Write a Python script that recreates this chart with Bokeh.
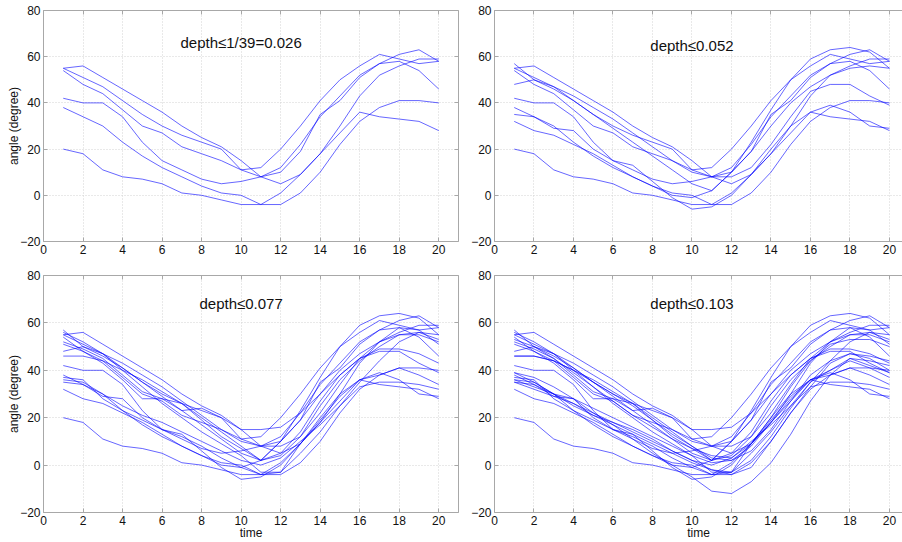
from bokeh.plotting import figure
from bokeh.models import Range1d, LinearAxis, FixedTicker
from bokeh.layouts import column, row
from bokeh.embed import file_html
from bokeh.resources import INLINE
from bokeh.core.properties import value

time = list(range(1, 21))

# curves shown at depth <= 0.026
c01 = [55, 56, 51, 46, 41, 36, 30, 25, 21, 15, 8, 10, 19, 35, 41, 51, 57, 58, 54, 46]
c02 = [55, 51, 47, 41, 35, 30, 26, 23, 20, 11, 12, 20, 30, 41, 50, 56, 61, 59, 57, 58]
c03 = [54, 48, 44, 37, 30, 27, 21, 18, 15, 11, 8, 5, 9, 18, 30, 43, 52, 56, 59, 59]
c04 = [42, 40, 40, 34, 23, 15, 11, 7, 5, 6, 8, 12, 22, 34, 43, 52, 57, 61, 63, 58]
c05 = [38, 34, 30, 23, 17, 12, 8, 4, 1, 0, -4, 1, 9, 18, 27, 36, 34, 33, 32, 28]
c06 = [20, 18, 11, 8, 7, 5, 1, 0, -2, -4, -4, -4, 1, 10, 22, 32, 38, 41, 41, 40]
# added at depth <= 0.052
c07 = [57, 50, 46, 41, 35, 29, 23, 17, 11, 5, 2, 10, 23, 37, 50, 59, 63, 64, 62, 55]
c08 = [48, 50, 47, 43, 38, 33, 27, 21, 15, 10, 8, 8, 12, 22, 34, 45, 48, 48, 43, 39]
c09 = [35, 34, 29, 28, 20, 15, 13, 6, -1, -6, -5, 0, 9, 20, 30, 36, 39, 36, 30, 29]
c10 = [32, 28, 26, 22, 18, 13, 8, 4, 0, -1, 2, 10, 19, 30, 40, 47, 52, 55, 56, 55]
# added at depth <= 0.077
c11 = [52, 49, 45, 38, 31, 28, 23, 24, 20, 15, 15, 16, 22, 30, 38, 45, 49, 49, 47, 43]
c12 = [46, 46, 44, 40, 36, 31, 26, 20, 14, 8, 2, 4, 12, 25, 36, 44, 50, 55, 55, 52]
c13 = [36, 35, 30, 25, 21, 18, 14, 10, 6, 2, 0, 3, 10, 17, 25, 33, 35, 35, 34, 32]
c14 = [37, 36, 28, 23, 19, 15, 12, 8, 3, -1, -4, -3, 9, 19, 29, 36, 38, 41, 38, 34]
c15 = [51, 48, 43, 36, 28, 28, 26, 19, 12, 7, 2, 5, 14, 27, 38, 45, 52, 58, 57, 51]
c16 = [56, 52, 47, 40, 33, 26, 20, 14, 9, 4, -3, -3, 5, 14, 25, 35, 44, 52, 56, 53]
# added at depth <= 0.103
c17 = [39, 35, 30, 26, 22, 17, 11, 5, 0, -5, -11, -12, -7, 1, 13, 27, 38, 45, 44, 42]
c18 = [46, 46, 44, 40, 35, 30, 25, 19, 13, 8, 3, 2, 6, 15, 27, 38, 44, 47, 46, 44]
c19 = [39, 37, 33, 28, 24, 20, 16, 12, 8, 4, 1, 2, 8, 18, 28, 36, 40, 44, 41, 37]
c20 = [36, 33, 30, 28, 22, 18, 15, 11, 6, 2, -2, -4, -1, 10, 22, 33, 43, 47, 45, 40]
c21 = [53, 50, 45, 39, 33, 27, 21, 16, 11, 7, 4, 3, 9, 20, 33, 44, 51, 53, 53, 50]
c22 = [35, 32, 29, 26, 21, 17, 13, 9, 5, 1, -2, -3, 2, 12, 24, 35, 40, 45, 42, 39]

set1 = [c01, c02, c03, c04, c05, c06]
set2 = set1 + [c07, c08, c09, c10]
set3 = set2 + [c11, c12, c13, c14, c15, c16]
set4 = set3 + [c17, c18, c19, c20, c21, c22]

panel_titles = ["depth≤1/39=0.026", "depth≤0.052", "depth≤0.077", "depth≤0.103"]
title_pos = [(10, 66), (10, 65), (10, 68), (10, 68)]
x_ticks = [0, 2, 4, 6, 8, 10, 12, 14, 16, 18, 20]
y_ticks = [-20, 0, 20, 40, 60, 80]
y_label = "angle (degree)"
x_label = "time"

FONT = "Liberation Sans"
FRAME = "#a8a8a8"


def make_panel(curves, title, tpos, width, height, bl, br, bt, bb, x_end,
               ylab, xlab, right_axis):
    p = figure(width=width, height=height,
               x_range=Range1d(0, x_end), y_range=Range1d(-20, 80),
               output_backend="svg", toolbar_location=None,
               min_border_left=bl, min_border_right=br,
               min_border_top=bt, min_border_bottom=bb)
    p.outline_line_color = None
    p.background_fill_color = "white"
    p.border_fill_color = "white"

    xt = FixedTicker(ticks=x_ticks)
    yt = FixedTicker(ticks=y_ticks)
    p.xaxis.ticker = xt
    p.yaxis.ticker = yt
    for ax in [p.xaxis[0], p.yaxis[0]]:
        ax.axis_line_color = FRAME
        ax.major_tick_line_color = FRAME
        ax.major_tick_in = 4
        ax.major_tick_out = 0
        ax.minor_tick_line_color = None
        ax.major_label_text_font = FONT
        ax.major_label_text_font_size = "12px"
        ax.major_label_text_color = "#111111"
        ax.axis_label_text_font = FONT
        ax.axis_label_text_font_size = "12px"
        ax.axis_label_text_font_style = "normal"
        ax.axis_label_text_color = "#111111"
    p.xaxis.major_label_standoff = 3
    p.yaxis.major_label_standoff = 3
    if ylab:
        p.yaxis.axis_label = y_label
        p.yaxis.axis_label_standoff = -4
    if xlab:
        p.xaxis.axis_label = x_label
        p.xaxis.axis_label_standoff = -2

    def blank_axis(ticks):
        a = LinearAxis(ticker=FixedTicker(ticks=ticks))
        a.axis_line_color = FRAME
        a.major_tick_line_color = FRAME
        a.major_tick_in = 4
        a.major_tick_out = 0
        a.minor_tick_line_color = None
        a.major_label_text_font_size = "1px"
        a.major_label_text_color = None
        a.major_label_standoff = 0
        return a

    p.add_layout(blank_axis(x_ticks), "above")
    if right_axis:
        p.add_layout(blank_axis(y_ticks), "right")

    p.xgrid.ticker = xt
    p.ygrid.ticker = yt
    for g in [p.xgrid[0], p.ygrid[0]]:
        g.grid_line_color = "#d2d2d2"
        g.grid_line_dash = "1 2"
        g.grid_line_width = 1

    for c in curves:
        p.line(time, c, line_color="#0000ff", line_width=1, line_alpha=0.6)

    p.text(x=[tpos[0]], y=[tpos[1]], text=[title], text_align="center",
           text_baseline="middle", text_font=value(FONT),
           text_font_size="15px", text_color="#111111")
    return p


p1 = make_panel(set1, panel_titles[0], title_pos[0], 464, 261, 43, 6, 10, 20, 21.0, True, False, True)
p2 = make_panel(set2, panel_titles[1], title_pos[1], 438, 261, 30, 0, 10, 20, 20.66, False, False, False)
p3 = make_panel(set3, panel_titles[2], title_pos[2], 464, 281, 43, 6, 14, 30, 21.0, True, True, True)
p4 = make_panel(set4, panel_titles[3], title_pos[3], 438, 281, 30, 0, 14, 30, 20.66, False, True, False)

layout = column(row(p1, p2), row(p3, p4))

open("out.html", "w").write(file_html(layout, INLINE))
